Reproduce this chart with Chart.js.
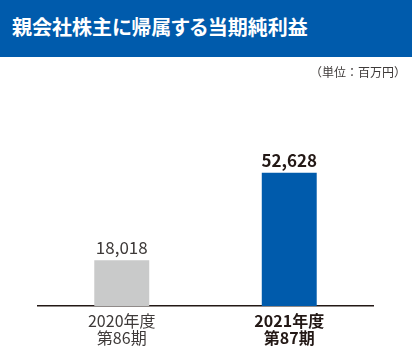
<!DOCTYPE html>
<html>
<head>
<meta charset="utf-8">
<script src="https://cdn.jsdelivr.net/npm/chart.js@4/dist/chart.umd.min.js"></script>
<style>
  body{margin:0;background:#fff;font-family:"Noto Sans CJK JP","Noto Sans",sans-serif;}
  #wrap{position:relative;width:412px;height:348px;overflow:hidden;}
  #head{position:absolute;left:0;top:0;width:412px;height:57px;background:#005bac;}
  #head h1{margin:0;position:absolute;left:12px;top:13px;font-size:20px;line-height:28px;font-weight:700;color:#fff;font-feature-settings:"palt";}
  #unit{position:absolute;right:6px;top:63px;font-size:12px;line-height:18px;color:#3e3a39;}
  canvas{position:absolute;left:0;top:0;}
</style>
</head>
<body>
<div id="wrap">
  <canvas id="chart" width="412" height="348"></canvas>
  <div id="head"><h1>親会社株主に帰属する当期純利益</h1></div>
  <div id="unit">（単位：百万円）</div>
</div>
<script>
// データ
const periods=[['2020年度','第86期'],['2021年度','第87期']];
const netIncome=[18018,52628];
const barColors=['#c9caca','#005bac'];
const highlight=[false,true];

const fmt=v=>v.toLocaleString('en-US');
const fontFam='"Noto Sans CJK JP","Noto Sans",sans-serif';

// 棒の上に数値を描く
const valueLabels={
  id:'valueLabels',
  afterDatasetsDraw(chart){
    const ctx=chart.ctx;
    const meta=chart.getDatasetMeta(0);
    ctx.save();
    ctx.textAlign='center';
    ctx.textBaseline='alphabetic';
    meta.data.forEach((bar,i)=>{
      const bold=highlight[i];
      ctx.font=(bold?'700 17px ':'400 17px ')+fontFam;
      ctx.fillStyle=bold?'#231815':'#3e3a39';
      ctx.fillText(fmt(netIncome[i]),bar.x,bar.y-6);
    });
    ctx.restore();
  }
};

new Chart(document.getElementById('chart').getContext('2d'),{
  type:'bar',
  data:{
    labels:periods,
    datasets:[{
      data:netIncome,
      backgroundColor:barColors,
      borderWidth:0,
      barPercentage:0.328,
      categoryPercentage:1
    }]
  },
  options:{
    responsive:false,
    animation:false,
    layout:{padding:{left:38,right:39,top:154,bottom:0}},
    plugins:{legend:{display:false},tooltip:{enabled:false}},
    scales:{
      y:{display:false,min:0,max:60000},
      x:{
        grid:{display:false,drawTicks:false},
        border:{display:true,color:'#231815',width:1.5},
        ticks:{
          padding:7,
          color:ctx=>highlight[ctx.index]?'#231815':'#3e3a39',
          font:ctx=>({family:fontFam,size:16,weight:highlight[ctx.index]?'700':'400',lineHeight:1.03})
        },
        afterFit(scale){scale.height=42;}
      }
    }
  },
  plugins:[valueLabels]
});
</script>
</body>
</html>
